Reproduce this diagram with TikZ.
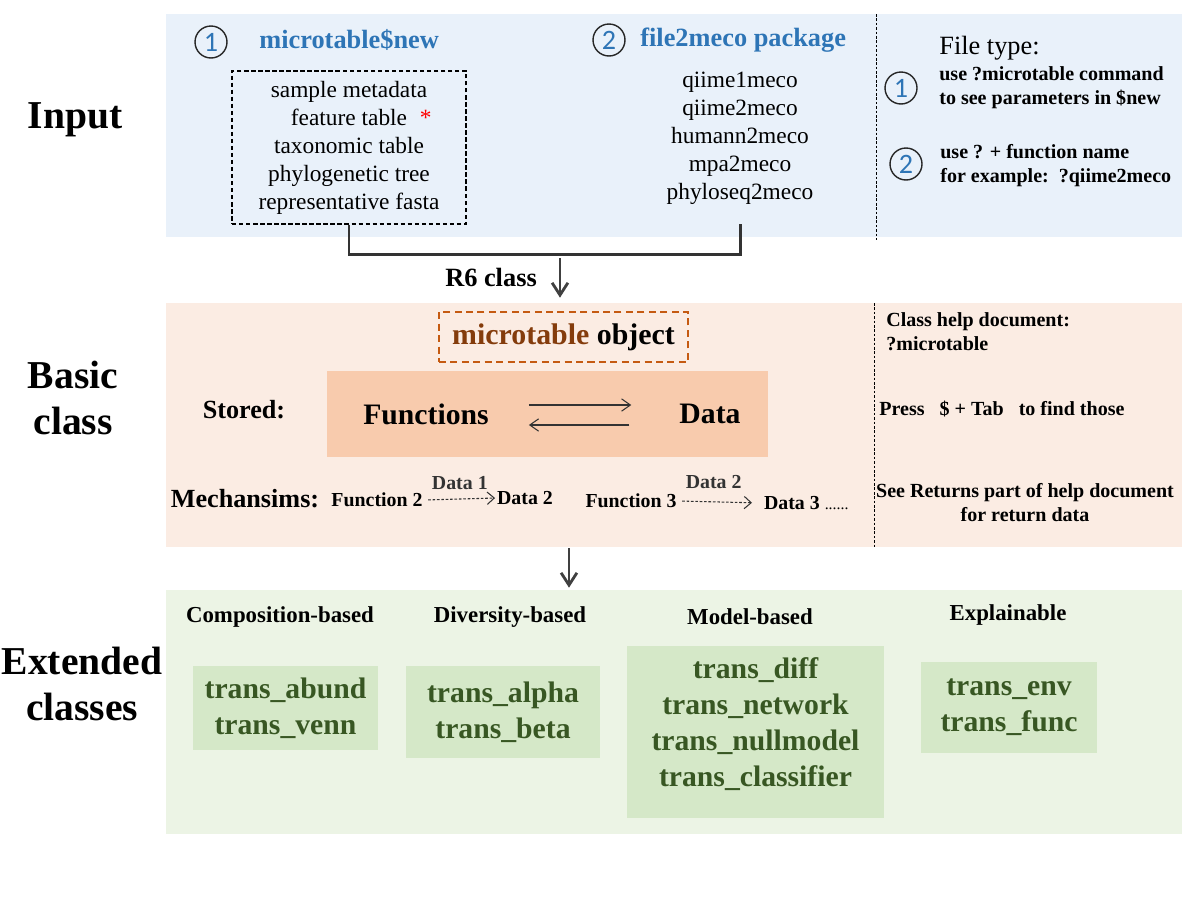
\documentclass[tikz,border=0pt]{standalone}
\usepackage{fontspec}
\setmainfont{Liberation Serif}
\newfontfamily\digitfont{Carlito}
\usepackage{xcolor}
\usetikzlibrary{arrows.meta,positioning,calc}

\definecolor{inputbg}{RGB}{233,241,250}
\definecolor{basicbg}{RGB}{251,236,227}
\definecolor{extbg}{RGB}{236,244,229}
\definecolor{peach}{RGB}{248,203,173}
\definecolor{leaf}{RGB}{213,232,200}
\definecolor{leaftext}{RGB}{56,87,35}
\definecolor{headblue}{RGB}{46,117,182}
\definecolor{rust}{RGB}{197,90,17}
\definecolor{brownish}{RGB}{132,60,12}
\definecolor{arrowgray}{RGB}{64,64,64}

\begin{document}
\begin{tikzpicture}[x=0.02cm, y=-0.02cm,
    panel/.style={inner sep=0pt, minimum width=20.32cm},
    sidelabel/.style={font=\bfseries\fontsize{22.5}{26.7}\selectfont, align=center},
    numcircle/.style={circle, draw=black!85, thick, minimum size=0.64cm, inner sep=0pt,
        font=\digitfont\fontsize{16}{16}\selectfont, text=headblue},
    heading/.style={anchor=west, inner sep=0pt, font=\bfseries\fontsize{15}{18}\selectfont, text=headblue},
    itemtext/.style={align=center, font=\fontsize{13.3}{15.9}\selectfont},
    note/.style={anchor=west, inner sep=0pt, align=left, font=\bfseries\fontsize{11.4}{13.6}\selectfont},
    mech/.style={font=\bfseries\fontsize{11.3}{13}\selectfont, inner sep=1pt},
    groupname/.style={font=\bfseries\fontsize{13}{15}\selectfont},
    transbox/.style={fill=leaf, align=center, text=leaftext, inner sep=0pt,
        font=\bfseries\fontsize{16.9}{20.4}\selectfont},
    downarrow/.style={-{Straight Barb[length=7pt, width=9pt]}, arrowgray, line width=1.6pt},
    flowarrow/.style={-{Straight Barb[length=5pt, width=7pt]}, black!80, line width=0.6pt},
    sepline/.style={dash pattern=on 1.5pt off 1pt, black, line width=0.5pt}
]
\useasboundingbox (0,0) rectangle (1200,900);

% Panels
\node[panel, fill=inputbg, minimum height=4.46cm] (inputpanel) at (674,125.5) {};
\node[panel, fill=basicbg, minimum height=4.88cm] (basicpanel) at (674,425) {};
\node[panel, fill=extbg, minimum height=4.88cm] (extpanel) at (674,712) {};
\draw[sepline] (876,14) -- (876,240);
\draw[sepline] (874,303) -- (874,547);

% Row labels
\node[sidelabel] (inputlbl) at (75,120) {Input};
\node[sidelabel] (basiclbl) at (73,398) {Basic\\class};
\node[sidelabel] (extlbl) at (82,684) {Extended\\classes};

% Input: microtable$new
\node[numcircle] (numone) at (211,42) {1};
\node[heading] (newhead) at (259,40) {microtable\$new};
\node[draw, dash pattern=on 2.5pt off 1.5pt, line width=0.6pt, minimum width=4.68cm, minimum height=3.06cm] (newbox) at (349,147.5) {};
\node[itemtext] (newitems) at (349,148) {sample metadata\\feature table\rlap{\hspace{0.55em}\textcolor{red}{*}}\\taxonomic table\\phylogenetic tree\\representative fasta};

% Input: file2meco
\node[numcircle] (numtwo) at (609,40) {2};
\node[heading] (file2head) at (640,40) {file2meco package};
\node[itemtext] (convlist) at (740,138) {qiime1meco\\qiime2meco\\humann2meco\\mpa2meco\\phyloseq2meco};
\coordinate (convend) at (740,224);

% Input: notes
\node[anchor=west, inner sep=0pt, font=\fontsize{15}{18}\selectfont] (filetype) at (939,48) {File type:};
\node[numcircle] (noteone) at (901,88) {1};
\node[note] (notetext1) at (939,88) {use ?microtable command\\to see parameters in \$new};
\node[numcircle] (notetwo) at (906,164) {2};
\node[note] (notetext2) at (940,166) {use ? + function name\\for example:\ \ ?qiime2meco};

% R6 bracket and arrow
\draw[arrowgray!80!black, line width=1.7pt] (newbox.south) -- ++(0,30) -| (convend);
\node[font=\bfseries\fontsize{15}{18}\selectfont] (r6lbl) at (491,277) {R6 class};
\coordinate (r6top) at (560,258);
\draw[downarrow, shorten >=0.1cm] (r6top) -- (r6top |- basicpanel.north);

% Basic class
\node[draw=rust, dashed, dash pattern=on 4pt off 2.5pt, line width=1.1pt, minimum width=4.98cm, minimum height=1cm,
    font=\bfseries\fontsize{17}{20}\selectfont] (objbox) at (563.5,337) {\textcolor{brownish}{microtable} object};
\node[fill=peach, minimum width=8.82cm, minimum height=1.72cm] (storebox) at (547.5,414) {};
\node[font=\bfseries\fontsize{16.9}{20}\selectfont] (funcs) at (426,414) {Functions};
\node[font=\bfseries\fontsize{16.9}{20}\selectfont] (data) at (710,414) {Data};
\draw[flowarrow, shorten <=0.68cm, shorten >=0.84cm] ([yshift=0.18cm]funcs.east) -- ([yshift=0.18cm]data.west);
\draw[flowarrow, shorten <=0.88cm, shorten >=0.68cm] ([yshift=-0.22cm]data.west) -- ([yshift=-0.22cm]funcs.east);
\node[font=\bfseries\fontsize{14.9}{18}\selectfont] (storedlbl) at (244,410) {Stored:};

\node[font=\bfseries\fontsize{14.9}{18}\selectfont] (mechlbl) at (245,499) {Mechansims:};
\node[mech] (fntwo) at (377,500) {Function 2};
\node[mech] (datatwo) at (525,498) {Data 2};
\draw[flowarrow, dash pattern=on 1.5pt off 1pt, -{Straight Barb[length=4pt, width=7pt]}, shorten <=2pt] (fntwo.east) -- (datatwo.west)
    node[mech, midway, above=4pt] (dataone) {Data 1};
\node[mech] (fnthree) at (631,501) {Function 3};
\node[mech, anchor=west] (datathree) at (762,503) {Data 3 \textmd{\small ......}};
\draw[flowarrow, dash pattern=on 1.5pt off 1pt, -{Straight Barb[length=4pt, width=7pt]}, shorten <=2pt, shorten >=0.2cm] (fnthree.east) -- (datathree.west)
    node[mech, pos=0.42, above=6pt] (datatwob) {Data 2};

% Basic class: notes
\node[note] (helpdoc) at (886,331.5) {Class help document:\\?microtable};
\node[note] (presstab) at (879,409) {Press\ \ \ \$ + Tab\ \ \ to find those};
\node[note, anchor=center, align=center] (returns) at (1025,503) {See Returns part of help document\\for return data};

\coordinate (midx) at (569,548);
\draw[downarrow, shorten >=0.04cm] (midx) -- (midx |- extpanel.north);

% Extended classes
\node[groupname] (compname) at (280,617) {Composition-based};
\node[groupname] (divname) at (510,617) {Diversity-based};
\node[groupname] (modelname) at (750,617) {Model-based};
\node[groupname] (explname) at (1008,615) {Explainable};
\node[transbox, minimum width=3.7cm, minimum height=1.68cm] (compbox) at (285.5,708) {trans\_abund\\trans\_venn};
\node[transbox, minimum width=3.88cm, minimum height=1.84cm] (divbox) at (503,712) {trans\_alpha\\trans\_beta};
\node[transbox, minimum width=5.14cm, minimum height=3.44cm] (modelbox) at (755.5,732) {};
\node[transbox] (modeltext) at (755.5,724) {trans\_diff\\trans\_network\\trans\_nullmodel\\trans\_classifier};
\node[transbox, minimum width=3.52cm, minimum height=1.82cm] (explbox) at (1009,707.5) {trans\_env\\trans\_func};

\end{tikzpicture}
\end{document}
